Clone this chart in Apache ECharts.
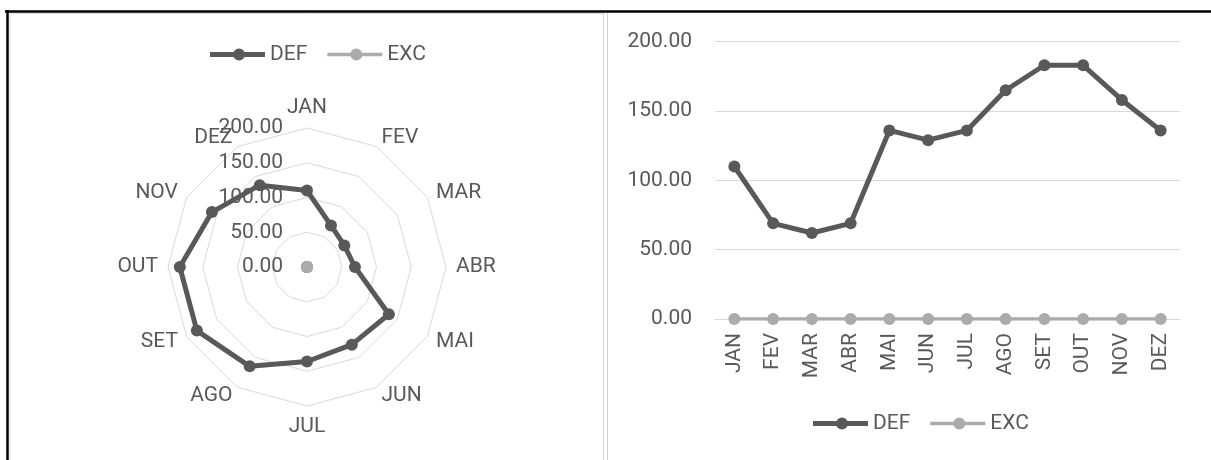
<!DOCTYPE html>
<html><head><meta charset="utf-8">
<script src="https://cdn.jsdelivr.net/npm/echarts@6/dist/echarts.min.js"></script>
<style>html,body{margin:0;padding:0;background:#fff}#c{width:1211px;height:460px}</style>
</head><body><div id="c"></div>
<script>
// ---- data ----
const months = ['JAN','FEV','MAR','ABR','MAI','JUN','JUL','AGO','SET','OUT','NOV','DEZ'];
const defValues = [110, 69, 62, 69, 136, 129, 136, 165, 183, 183, 158, 136];
const excValues = [0, 0, 0, 0, 0, 0, 0, 0, 0, 0, 0, 0];
const seriesNames = ['DEF', 'EXC'];
const axisMin = 0, axisMax = 200, axisStep = 50;

// ---- styles ----
const FONT = 'Roboto';
const TXT = '#595959';
const C_DEF = '#595959', C_EXC = '#ababab';
const GRID = '#d9d9d9';
const fmt = v => Number(v).toFixed(2);

// radar goes counter-clockwise in ECharts; Excel goes clockwise
const order = months.map((_, i) => (12 - i) % 12);
const indicators = order.map((k, j) => {
  const o = { name: months[k], min: axisMin, max: axisMax };
  if (j === 0) o.axisLabel = { show: true };
  return o;
});

const defIcon = 'path://M0,3.5L55,3.5L55,8.5L0,8.5Z M23,6a6,6 0 1,1 12,0a6,6 0 1,1 -12,0Z';
const excIcon = 'path://M0,4.25L55,4.25L55,7.75L0,7.75Z M23,6a6,6 0 1,1 12,0a6,6 0 1,1 -12,0Z';
const legendData = [{ name: seriesNames[0], icon: defIcon }, { name: seriesNames[1], icon: excIcon }];
const legendBase = {
  itemWidth: 55, itemHeight: 12, itemGap: 20,
  textStyle: { color: TXT, fontSize: 21, fontFamily: FONT },
  data: legendData, selectedMode: false
};

const chart = echarts.init(document.getElementById('c'), null, { renderer: 'canvas' });
chart.setOption({
  animation: false,
  backgroundColor: '#fff',
  legend: [
    Object.assign({ left: 205, top: 39 }, legendBase),
    Object.assign({ left: 808, top: 408 }, legendBase)
  ],
  radar: {
    center: [307, 267],
    radius: 139,
    shape: 'polygon',
    splitNumber: 4,
    nameGap: 10,
    axisName: { color: TXT, fontSize: 21, fontFamily: FONT },
    splitLine: { lineStyle: { color: GRID, width: 1 } },
    splitArea: { show: false },
    axisLine: { show: false },
    axisTick: { show: false },
    axisLabel: { show: false, formatter: fmt, color: TXT, fontSize: 21, fontFamily: FONT, margin: 24, showMinLabel: true, showMaxLabel: true },
    indicator: indicators
  },
  grid: { left: 715, right: 31, top: 41.7, bottom: 141 },
  xAxis: {
    type: 'category', data: months, boundaryGap: true,
    axisLine: { lineStyle: { color: GRID, width: 1 } },
    axisTick: { show: false },
    axisLabel: { rotate: 90, margin: 14, interval: 0, color: TXT, fontSize: 21, fontFamily: FONT }
  },
  yAxis: {
    type: 'value', min: axisMin, max: axisMax, interval: axisStep,
    axisLine: { show: false }, axisTick: { show: false },
    axisLabel: { formatter: fmt, margin: 23, color: TXT, fontSize: 21, fontFamily: FONT },
    splitLine: { lineStyle: { color: GRID, width: 1 } }
  },
  series: [
    {
      type: 'radar', z: 3,
      data: [
        { name: seriesNames[0], value: order.map(k => defValues[k]), symbol: 'circle', symbolSize: 12,
          lineStyle: { width: 5, color: C_DEF }, itemStyle: { color: C_DEF } },
        { name: seriesNames[1], value: order.map(k => excValues[k]), symbol: 'circle', symbolSize: 12,
          lineStyle: { width: 3.5, color: C_EXC }, itemStyle: { color: C_EXC } }
      ]
    },
    { type: 'line', name: seriesNames[0], data: defValues, symbol: 'circle', symbolSize: 12,
      lineStyle: { width: 5, color: C_DEF }, itemStyle: { color: C_DEF } },
    { type: 'line', name: seriesNames[1], data: excValues, symbol: 'circle', symbolSize: 12,
      lineStyle: { width: 3.5, color: C_EXC }, itemStyle: { color: C_EXC } }
  ],
  graphic: [
    { type: 'line', silent: true, shape: { x1: 5, y1: 11.5, x2: 1211, y2: 11.5 }, style: { stroke: '#000', lineWidth: 2.5 } },
    { type: 'line', silent: true, shape: { x1: 7.5, y1: 10, x2: 7.5, y2: 460 }, style: { stroke: '#000', lineWidth: 2.5 } },
    { type: 'line', silent: true, shape: { x1: 10, y1: 13.5, x2: 603, y2: 13.5 }, style: { stroke: '#dcdcdc', lineWidth: 1 } },
    { type: 'line', silent: true, shape: { x1: 10, y1: 13.5, x2: 10, y2: 460 }, style: { stroke: '#dcdcdc', lineWidth: 1 } },
    { type: 'line', silent: true, shape: { x1: 603.5, y1: 13, x2: 603.5, y2: 460 }, style: { stroke: '#d0d0d0', lineWidth: 1 } },
    { type: 'line', silent: true, shape: { x1: 607.5, y1: 13, x2: 607.5, y2: 460 }, style: { stroke: '#d0d0d0', lineWidth: 1 } }
  ]
});
</script>
</body></html>
